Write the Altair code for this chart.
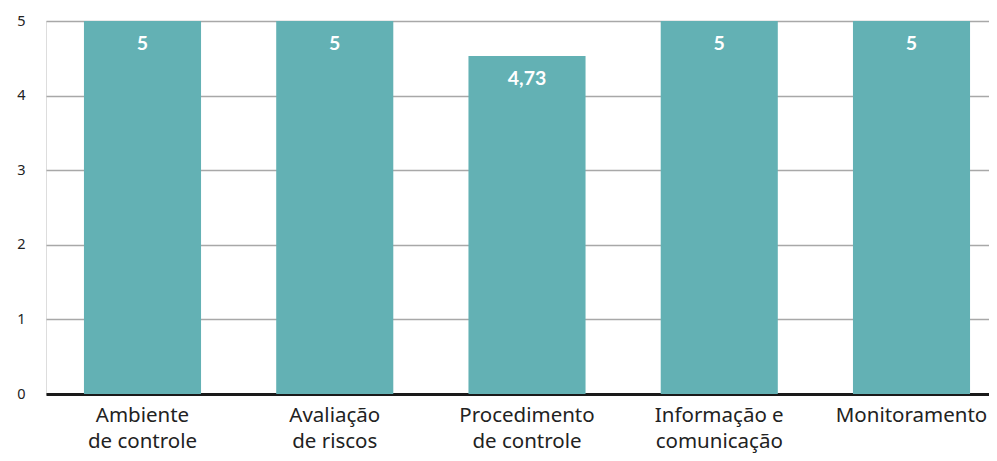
import altair as alt
import pandas as pd

categories = ["Ambiente|de controle", "Avaliação|de riscos", "Procedimento|de controle",
              "Informação e|comunicação", "Monitoramento"]
bar_values = [5, 5, 4.53, 5, 5]
value_labels = ["5", "5", "4,73", "5", "5"]
y_ticks = [0, 1, 2, 3, 4, 5]

df = pd.DataFrame({"cat": categories, "val": bar_values, "lab": value_labels})

x_enc = alt.X("cat:N", sort=categories,
              scale=alt.Scale(paddingInner=0.391, paddingOuter=0.148, align=0.667),
              axis=alt.Axis(title=None, labelAngle=0, ticks=False, domain=True,
                            domainColor="#1a1a1a", domainWidth=3,
                            labelExpr="split(datum.value, '|')",
                            labelFont="Noto Sans", labelFontSize=20.5, labelColor="#222222",
                            labelLineHeight=26, labelPadding=11, labelBaseline="top"))
y_enc = alt.Y("val:Q", scale=alt.Scale(domain=[0, 5], nice=False),
              axis=alt.Axis(title=None, values=y_ticks, ticks=False, domain=False,
                            grid=True, gridColor="#a8a8a8", gridWidth=1.5,
                            labelFont="Noto Sans", labelFontSize=14.5, labelColor="#222222",
                            labelPadding=21, format="d"))

bars = alt.Chart(df).mark_bar(color="#63b1b4").encode(x=x_enc, y=y_enc)
text = alt.Chart(df).mark_text(color="white", font="Lato", fontWeight="bold", fontSize=19.5,
                               baseline="middle", dy=23).encode(
    x=alt.X("cat:N", sort=categories), y=alt.Y("val:Q"), text="lab:N")

chart = (bars + text).properties(
    width=943, height=373,
    autosize=alt.AutoSizeParams(type="none"),
    padding={"left": 38, "top": 13, "right": 0, "bottom": 59},
).configure_view(stroke=None).configure(background="white")

chart.save("out.html", embed_options={"renderer": "svg", "actions": False})
